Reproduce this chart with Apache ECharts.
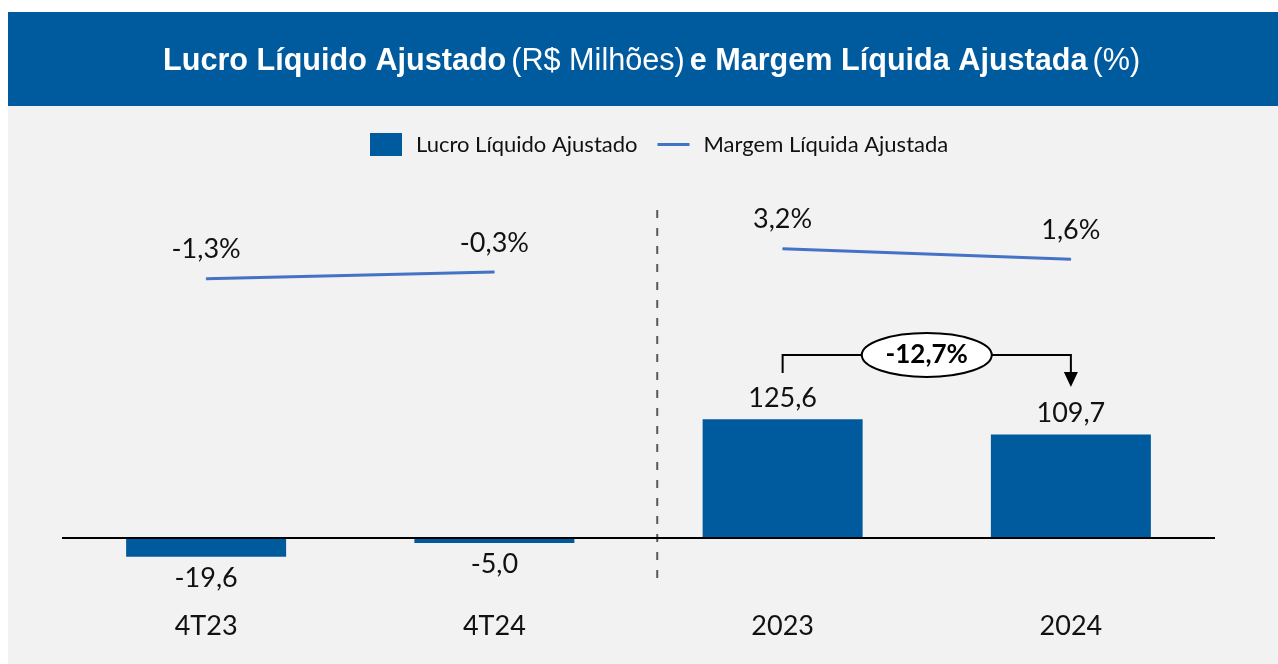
<!DOCTYPE html>
<html>

<head>
    <meta charset="UTF-8">
    <title>Lucro Líquido Ajustado e Margem Líquida Ajustada</title>
    <script src="https://cdn.jsdelivr.net/npm/echarts@6/dist/echarts.min.js"></script>
    <style>
        html,
        body {
            margin: 0;
            padding: 0;
            background-color: #ffffff;
        }

        #chart {
            width: 1278px;
            height: 664px;
        }
    </style>
</head>

<body>
    <div id="chart"></div>
</body>
<script>
    // dados
    var categorias = ['4T23', '4T24', '2023', '2024'];
    var lucro = [-19.6, -5.0, 125.6, 109.7];
    var margemTri = [-1.3, -0.3, null, null];
    var margemAno = [null, null, 3.2, 1.6];
    var variacao = '-12,7%';

    var azul = '#005A9E';
    var azulLinha = '#4472C4';
    var texto = '#111111';
    var fonte = 'Lato, "Open Sans", sans-serif';
    var fonteTitulo = '"Liberation Sans", Arial, sans-serif';

    function virgula(v, casas) {
        return v.toFixed(casas).replace('.', ',');
    }

    var chart = echarts.init(document.getElementById('chart'));

    var lucroData = lucro.map(function (v) {
        return {
            value: v,
            label: { position: v < 0 ? 'bottom' : 'top' }
        };
    });

    var linhaLabel = {
        show: true,
        position: 'top',
        distance: 15,
        color: texto,
        fontSize: 27,
        fontFamily: fonte,
        formatter: function (p) {
            return virgula(p.value, 1) + '%';
        }
    };

    var option = {
        backgroundColor: '#ffffff',
        animation: false,
        title: {
            left: 158,
            top: 37,
            text: '{b|Lucro Líquido Ajustado} {n|(R$ Milhões)} {b|e Margem Líquida Ajustada} {n|(%)}',
            textStyle: {
                rich: {
                    b: {
                        color: '#ffffff',
                        fontSize: 30.6,
                        fontWeight: 'bold',
                        fontFamily: fonteTitulo,
                        lineHeight: 40
                    },
                    n: {
                        color: '#ffffff',
                        fontSize: 30.6,
                        fontWeight: 'normal',
                        fontFamily: fonteTitulo,
                        lineHeight: 40
                    }
                }
            }
        },
        legend: {
            top: 128,
            left: 365,
            itemWidth: 32,
            itemHeight: 23,
            itemGap: 20,
            textStyle: {
                color: texto,
                fontSize: 22,
                fontFamily: fonte,
                padding: [0, 0, 0, 9]
            },
            data: [
                { name: 'Lucro Líquido Ajustado', icon: 'rect' },
                { name: 'Margem Líquida Ajustada', icon: 'path://M0,0H30V3H0Z' }
            ]
        },
        grid: {
            left: 62,
            right: 63,
            top: 188,
            bottom: 69,
            outerBoundsMode: 'none'
        },
        xAxis: {
            type: 'category',
            data: categorias,
            axisTick: { show: false },
            axisLine: { show: false, onZero: false },
            axisLabel: {
                margin: 18,
                color: texto,
                fontSize: 27,
                fontFamily: fonte
            }
        },
        yAxis: [{
            type: 'value',
            show: false,
            min: -60,
            max: 370
        }, {
            type: 'value',
            show: false,
            min: -48.5,
            max: 12.25
        }],
        series: [{
            name: 'Lucro Líquido Ajustado',
            type: 'bar',
            yAxisIndex: 0,
            barWidth: 160,
            data: lucroData,
            itemStyle: { color: azul },
            label: {
                show: true,
                distance: 8,
                color: texto,
                fontSize: 27,
                fontFamily: fonte,
                formatter: function (p) {
                    return virgula(p.value, 1);
                }
            },
            markLine: {
                silent: true,
                symbol: 'none',
                label: { show: false },
                lineStyle: { color: '#000000', width: 2, type: 'solid' },
                data: [{ yAxis: 0 }]
            },
            z: 1
        }, {
            name: 'Margem Líquida Ajustada',
            type: 'line',
            yAxisIndex: 1,
            data: margemTri,
            symbol: 'circle',
            symbolSize: 1,
            connectNulls: false,
            lineStyle: { color: azulLinha, width: 3 },
            itemStyle: { color: azulLinha },
            label: linhaLabel
        }, {
            name: 'Margem Líquida Ajustada',
            type: 'line',
            yAxisIndex: 1,
            data: margemAno,
            symbol: 'circle',
            symbolSize: 1,
            connectNulls: false,
            lineStyle: { color: azulLinha, width: 3 },
            itemStyle: { color: azulLinha },
            label: linhaLabel
        }]
    };

    chart.setOption(option);

    // fundo, separador e seta de variação
    var xs = categorias.map(function (c) {
        return chart.convertToPixel({ xAxisIndex: 0 }, c);
    });
    var xSep = xs[1] + (xs[2] - xs[1]) * 0.565;
    var xMeio = (xs[2] + xs[3]) / 2;
    var yChave = 355;

    chart.setOption({
        graphic: [{
            type: 'rect',
            z: -10,
            shape: { x: 8, y: 12, width: 1270, height: 94 },
            style: { fill: azul }
        }, {
            type: 'rect',
            z: -10,
            shape: { x: 8, y: 106, width: 1270, height: 558 },
            style: { fill: '#F2F2F2' }
        }, {
            type: 'line',
            shape: { x1: xSep, y1: 210, x2: xSep, y2: 580 },
            style: { stroke: '#595959', lineWidth: 2, lineDash: [8, 10] }
        }, {
            type: 'polyline',
            shape: { points: [[xs[2], 373], [xs[2], yChave], [xs[3], yChave], [xs[3], 374]] },
            style: { stroke: '#000000', lineWidth: 2, fill: null }
        }, {
            type: 'polygon',
            shape: { points: [[xs[3] - 7, 372], [xs[3] + 7, 372], [xs[3], 387]] },
            style: { fill: '#000000' }
        }, {
            type: 'ellipse',
            shape: { cx: xMeio, cy: yChave, rx: 65, ry: 22 },
            style: { fill: '#ffffff', stroke: '#000000', lineWidth: 2 }
        }, {
            type: 'text',
            x: xMeio,
            y: yChave,
            style: {
                text: variacao,
                align: 'center',
                verticalAlign: 'middle',
                fill: '#000000',
                fontSize: 26,
                fontWeight: 'bold',
                fontFamily: fonte
            }
        }]
    });
</script>

</html>
